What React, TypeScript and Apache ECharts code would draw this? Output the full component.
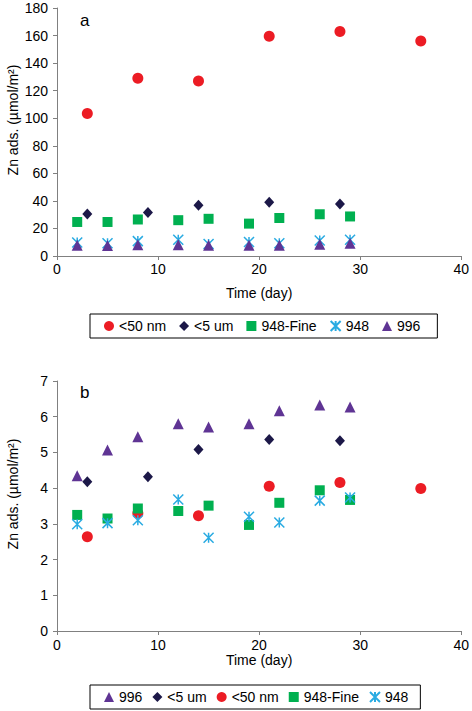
import React, { useEffect, useRef } from 'react';
import * as echarts from 'echarts';

// x values (days)
const daysNm = [3, 8, 14, 21, 28, 36];
const daysUm = [3, 9, 14, 21, 28];
const daysSample = [2, 5, 8, 12, 15, 19, 22, 26, 29];

// panel a
const nmA = [103.5, 129, 127, 159.5, 163, 156];
const umA = [30.5, 31.5, 36.8, 39, 37.7];
const fineA = [24.7, 24.7, 26.5, 26, 27, 23.5, 27.6, 30.3, 28.7];
const s948A = [9.8, 9.3, 10.8, 11.8, 8.7, 10.2, 9.2, 11.2, 11.8];
const s996A = [7.8, 7.6, 8.2, 8.2, 7.8, 7.8, 7.8, 8.5, 9.2];

// panel b
const nmB = [2.64, 3.3, 3.23, 4.05, 4.16, 3.99];
const umB = [4.18, 4.32, 5.08, 5.36, 5.33];
const fineB = [3.25, 3.15, 3.43, 3.36, 3.51, 2.97, 3.59, 3.94, 3.67];
const s948B = [2.99, 3.02, 3.1, 3.68, 2.61, 3.2, 3.04, 3.65, 3.74];
const s996B = [4.35, 5.07, 5.44, 5.8, 5.71, 5.8, 6.17, 6.33, 6.27];

const legendA = ['<50 nm', '<5 um', '948-Fine', '948', '996'];
const legendB = ['996', '<5 um', '<50 nm', '948-Fine', '948'];

const FONT = '"Liberation Sans", Arial, sans-serif';
const STAR = 'path://M0,0L10,10M10,0L0,10M5,0L5,10';

const styles: Record<string, any> = {
  '<50 nm': { symbol: 'circle', symbolSize: 11, itemStyle: { color: '#ec1c24', opacity: 1 } },
  '<5 um': { symbol: 'diamond', symbolSize: [10, 11], itemStyle: { color: '#1c1848', opacity: 1 } },
  '948-Fine': { symbol: 'rect', symbolSize: 10, itemStyle: { color: '#00b050', opacity: 1 } },
  '948': {
    symbol: STAR,
    symbolSize: 10,
    itemStyle: { color: 'rgba(0,0,0,0)', borderColor: '#29abe2', borderWidth: 1.5, opacity: 1 },
  },
  '996': { symbol: 'triangle', symbolSize: 11, itemStyle: { color: '#5f3494', opacity: 1 } },
};

const zip = (xs: number[], ys: number[]) => xs.map((x, i) => [x, ys[i]]);

function mk(name: string, idx: number, data: number[][]) {
  return { name, type: 'scatter', xAxisIndex: idx, yAxisIndex: idx, data, ...styles[name] };
}

function xAxis(idx: number, gap: number, margin: number) {
  return {
    type: 'value',
    gridIndex: idx,
    min: 0,
    max: 40,
    interval: 10,
    name: 'Time (day)',
    nameLocation: 'middle',
    nameGap: gap,
    nameTextStyle: { fontSize: 14, color: '#000', fontFamily: FONT },
    axisLine: { show: true, lineStyle: { color: '#808080', width: 1 } },
    axisTick: { show: true, length: 4, lineStyle: { color: '#808080' } },
    axisLabel: { fontSize: 14, color: '#000', fontFamily: FONT, margin },
    splitLine: { show: false },
  };
}

function yAxis(idx: number, max: number, interval: number) {
  return {
    type: 'value',
    gridIndex: idx,
    min: 0,
    max,
    interval,
    axisLine: { show: true, lineStyle: { color: '#808080', width: 1 } },
    axisTick: { show: true, length: 4, lineStyle: { color: '#808080' } },
    axisLabel: { fontSize: 14, color: '#000', fontFamily: FONT, margin: 9 },
    splitLine: { show: false },
  };
}

function legend(top: number, data: string[], gap: number, padRight: number) {
  return {
    left: 90,
    top,
    data,
    itemWidth: 10,
    itemHeight: 10,
    itemGap: gap,
    padding: [5, padRight, 5, 14],
    borderColor: '#000',
    borderWidth: 1,
    selectedMode: false,
    textStyle: { fontSize: 14, color: '#000', fontFamily: FONT },
  };
}

export default function App() {
  const ref = useRef<HTMLDivElement>(null);

  useEffect(() => {
    if (!ref.current) return;
    const chart = echarts.init(ref.current, undefined, { renderer: 'svg' });

    const option: any = {
      animation: false,
      textStyle: { fontFamily: FONT },
      grid: [
        { left: 57, top: 8, width: 407, height: 248 },
        { left: 57, top: 381, width: 407, height: 250 },
      ],
      xAxis: [xAxis(0, 30, 6), xAxis(1, 21, 7)],
      yAxis: [yAxis(0, 180, 20), yAxis(1, 7, 1)],
      legend: [legend(314, legendA, 13, 17), legend(685, legendB, 10, 12)],
      graphic: [
        { type: 'text', left: 80, top: 12, style: { text: 'a', fill: '#000', font: `17px ${FONT}` } },
        { type: 'text', left: 80, top: 384, style: { text: 'b', fill: '#000', font: `17px ${FONT}` } },
        {
          type: 'text', x: 13, y: 120, rotation: Math.PI / 2,
          style: { text: 'Zn ads. (µmol/m²)', font: `14px ${FONT}`, fill: '#000', align: 'center', verticalAlign: 'middle' },
        },
        {
          type: 'text', x: 13, y: 494, rotation: Math.PI / 2,
          style: { text: 'Zn ads. (µmol/m²)', font: `14px ${FONT}`, fill: '#000', align: 'center', verticalAlign: 'middle' },
        },
      ],
      series: [
        mk('<50 nm', 0, zip(daysNm, nmA)),
        mk('<5 um', 0, zip(daysUm, umA)),
        mk('948-Fine', 0, zip(daysSample, fineA)),
        mk('948', 0, zip(daysSample, s948A)),
        mk('996', 0, zip(daysSample, s996A)),
        mk('996', 1, zip(daysSample, s996B)),
        mk('<5 um', 1, zip(daysUm, umB)),
        mk('<50 nm', 1, zip(daysNm, nmB)),
        mk('948-Fine', 1, zip(daysSample, fineB)),
        mk('948', 1, zip(daysSample, s948B)),
      ],
    };
    chart.setOption(option);

    const resizeHandler = () => chart.resize();
    window.addEventListener('resize', resizeHandler);
    return () => {
      window.removeEventListener('resize', resizeHandler);
      chart.dispose();
    };
  }, []);

  return (
    <div
      ref={ref}
      style={{ position: 'fixed', left: 0, top: 0, width: '472px', height: '711px', background: '#fff' }}
    />
  );
}
